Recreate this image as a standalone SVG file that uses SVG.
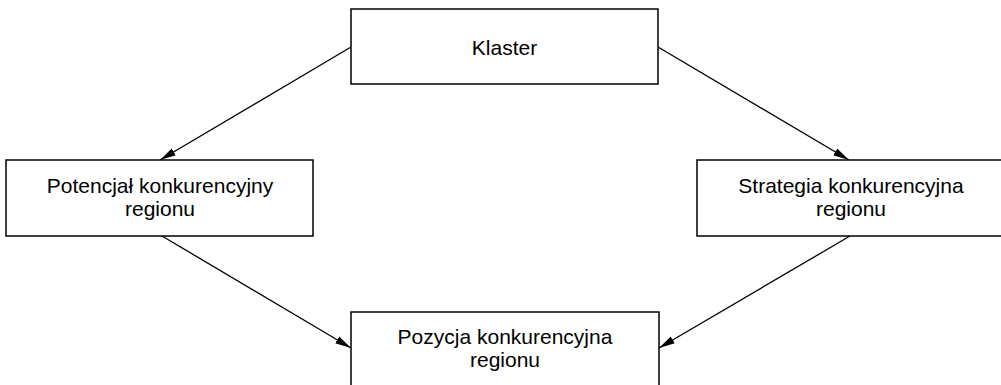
<svg xmlns="http://www.w3.org/2000/svg" width="1001" height="385" viewBox="0 0 1001 385">
<style>
.box{fill:#fff;stroke:#000;stroke-width:1.5}
.lbl{font-family:"Liberation Sans",Arial,sans-serif;font-size:21px;fill:#000;text-anchor:middle}
.con{stroke:#000;stroke-width:1.3;fill:none;marker-end:url(#arr)}
</style>
<defs>
<marker id="arr" markerUnits="userSpaceOnUse" markerWidth="18" markerHeight="12" refX="16" refY="5" orient="auto" viewBox="0 0 18 10">
<path d="M0,1 L16,5 L0,9 Z" fill="#000"/>
</marker>
</defs>
<rect width="1001" height="385" fill="#fff"/>
<g id="connectors">
<line class="con" x1="351" y1="47" x2="160" y2="160"/>
<line class="con" x1="658" y1="47" x2="849" y2="160"/>
<line class="con" x1="162" y1="236" x2="351" y2="348"/>
<line class="con" x1="850" y1="236" x2="659" y2="348"/>
</g>
<g id="klaster">
<rect class="box" x="351" y="9" width="307" height="75"/>
<text class="lbl" x="504.5" y="55">Klaster</text>
</g>
<g id="potencjal">
<rect class="box" x="6" y="160" width="307" height="76"/>
<text class="lbl" x="160" y="193">Potencjał konkurencyjny</text>
<text class="lbl" x="160" y="216">regionu</text>
</g>
<g id="strategia">
<rect class="box" x="697" y="160" width="310" height="76"/>
<text class="lbl" x="851" y="193">Strategia konkurencyjna</text>
<text class="lbl" x="851" y="216">regionu</text>
</g>
<g id="pozycja">
<rect class="box" x="351" y="312" width="308" height="80"/>
<text class="lbl" x="505" y="344">Pozycja konkurencyjna</text>
<text class="lbl" x="505" y="367">regionu</text>
</g>
</svg>
